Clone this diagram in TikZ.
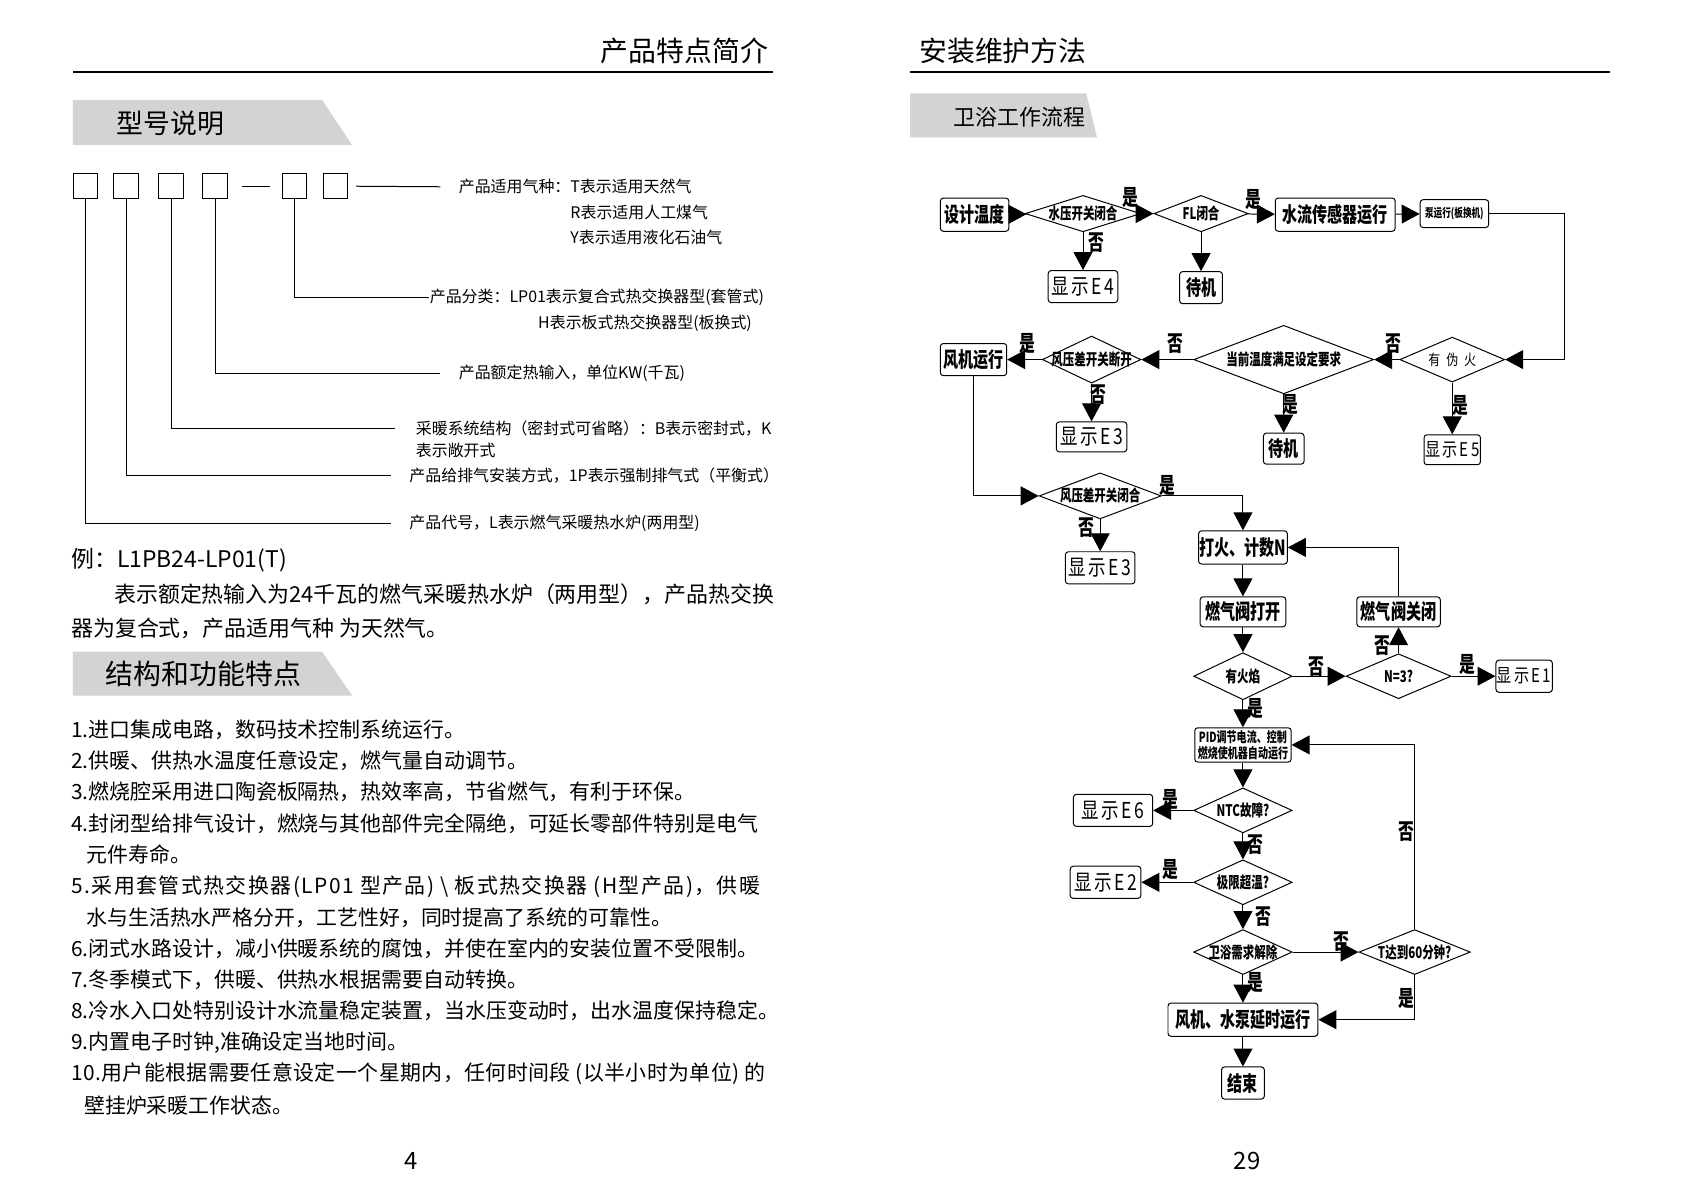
\documentclass[tikz,border=0pt]{standalone}
\usepackage{fontspec}
\setmainfont{Noto Sans CJK SC}
\newfontfamily\flowfont[FakeStretch=0.72]{Noto Sans CJK SC}
\newfontfamily\thinfont[FakeStretch=0.8,LetterSpace=12]{Noto Sans CJK SC}
\usetikzlibrary{shapes.geometric,arrows.meta,positioning}
\definecolor{tabgray}{RGB}{210,211,213}
\newcommand{\dtxt}[1]{\makebox[0pt]{#1}}

\begin{document}
\begin{tikzpicture}[x=0.018941cm, y=-0.018941cm, line width=0.5pt,
    sz/.style 2 args={minimum width=#1*0.5374pt, minimum height=#2*0.5374pt},
    box/.style={draw, rounded corners=1.5pt, inner sep=0.5pt, font=\flowfont\bfseries\fontsize{10.5}{11}\selectfont},
    errbox/.style={draw, rounded corners=1.5pt, inner sep=0.5pt, font=\thinfont\fontsize{11}{11}\selectfont},
    dec/.style={draw, diamond, aspect=1, inner sep=0pt, font=\flowfont\bfseries\fontsize{8}{8}\selectfont},
    yn/.style={inner sep=0pt, font=\flowfont\bfseries\fontsize{11}{11}\selectfont},
    flow/.style={-{Triangle[length=9pt,width=9.5pt]}},
    sq/.style={draw, sz={23}{23}, inner sep=0pt},
    note/.style={anchor=west, inner sep=0pt, font=\fontsize{8}{8}\selectfont},
    item/.style={anchor=west, inner sep=0pt, font=\fontsize{10.5}{10.5}\selectfont},
    title/.style={anchor=west, inner sep=0pt, font=\fontsize{14}{14}\selectfont}]
\useasboundingbox (0,0) rectangle (1568,1109);

% page heads
\node[title, anchor=east] (headL) at (716,47) {产品特点简介};
\draw[line width=0.6pt] (68,67) -- (720,67);
\node[title] (headR) at (856,47) {安装维护方法};
\draw[line width=0.6pt] (848,67) -- (1500,67);

% grey tabs
\fill[tabgray] (68,93) -- (300,93) -- (328,135) -- (68,135) -- cycle;
\node[title, font=\fontsize{13.5}{13.5}\selectfont] (tabModel) at (108,115) {型号说明};
\fill[tabgray] (68,607) -- (300,607) -- (328,648) -- (68,648) -- cycle;
\node[title] (tabFeat) at (98,628) {结构和功能特点};
\fill[tabgray] (848,87) -- (1012,87) -- (1022,128) -- (848,128) -- cycle;
\node[title, font=\fontsize{11}{11}\selectfont] (tabFlow) at (888,109) {卫浴工作流程};

% model code boxes
\node[sq] (b1) at (79.5,173.5) {};
\node[sq] (b2) at (117.5,173.5) {};
\node[sq] (b3) at (159.5,173.5) {};
\node[sq] (b4) at (200.5,173.5) {};
\node[sq] (b5) at (274.5,173.5) {};
\node[sq] (b6) at (312.5,173.5) {};
\draw ([xshift=7pt]b4.east) -- ([xshift=-6pt]b5.west);

\node[note] (gasT) at (427,174) {产品适用气种：T表示适用天然气};
\node[note] (gasR) at (531,198) {R表示适用人工煤气};
\node[note] (gasY) at (531,221) {Y表示适用液化石油气};
\node[note] (typeL) at (400,277) {产品分类：LP01表示复合式热交换器型(套管式)};
\node[note] (typeH) at (501,301) {H表示板式热交换器型(板换式)};
\node[note] (power) at (427,348) {产品额定热输入，单位KW(千瓦)};
\node[note] (sysA) at (387,399) {采暖系统结构（密封式可省略）：B表示密封式，K};
\node[note] (sysB) at (387,420) {表示敞开式};
\node[note] (vent) at (381,443) {产品给排气安装方式，1P表示强制排气式（平衡式）};
\node[note] (code) at (381,488) {产品代号，L表示燃气采暖热水炉(两用型)};

\draw ([xshift=4pt]b6.east) -- ([xshift=-9pt]gasT.west);
\draw (b5.south) |- (typeL.west);
\draw (b4.south) |- ([xshift=-9pt]power.west);
\draw (b3.south) |- ([xshift=-10pt]sysA.west);
\draw (b2.south) |- ([xshift=-9pt]vent.west);
\draw (b1.south) |- ([xshift=-9pt]code.west);

% example and feature list
\node[item, font=\fontsize{11.5}{11.5}\selectfont] (ex) at (66,522) {例：L1PB24-LP01(T)};
\node[item, font=\fontsize{11}{11}\selectfont] (exA) at (106,554) {表示额定热输入为24千瓦的燃气采暖热水炉（两用型），产品热交换};
\node[item, font=\fontsize{11}{11}\selectfont] (exB) at (66,585) {器为复合式，产品适用气种 为天然气。};

\node[item] (f1) at (66,680) {1.进口集成电路，数码技术控制系统运行。};
\node[item] (f2) at (66,709) {2.供暖、供热水温度任意设定，燃气量自动调节。};
\node[item] (f3) at (66,738) {3.燃烧腔采用进口陶瓷板隔热，热效率高，节省燃气，有利于环保。};
\node[item] (f4) at (66,767) {4.封闭型给排气设计，燃烧与其他部件完全隔绝，可延长零部件特别是电气};
\node[item] (f4b) at (80,796) {元件寿命。};
\node[item] (f5) at (66,826) {\addfontfeature{LetterSpace=7}5.采用套管式热交换器(LP01 型产品) \textbackslash\ 板式热交换器 (H型产品)，供暖};
\node[item] (f5b) at (80,855) {水与生活热水严格分开，工艺性好，同时提高了系统的可靠性。};
\node[item] (f6) at (66,884) {6.闭式水路设计，减小供暖系统的腐蚀，并使在室内的安装位置不受限制。};
\node[item] (f7) at (66,913) {7.冬季模式下，供暖、供热水根据需要自动转换。};
\node[item] (f8) at (66,942) {8.冷水入口处特别设计水流量稳定装置，当水压变动时，出水温度保持稳定。};
\node[item] (f9) at (66,971) {9.内置电子时钟,准确设定当地时间。};
\node[item] (f10) at (66,1000) {\addfontfeature{LetterSpace=2}10.用户能根据需要任意设定一个星期内，任何时间段 (以半小时为单位) 的};
\node[item] (f10b) at (78,1030) {壁挂炉采暖工作状态。};

\node[font=\fontsize{12}{12}\selectfont] (pg4) at (383,1082) {4};
\node[font=\fontsize{12}{12}\selectfont] (pg29) at (1162,1082) {29};

% flow chart, first row
\node[box, sz={64}{31}] (settemp) at (908,200) {设计温度};
\node[dec, sz={108}{34}] (wpress) at (1009,199) {\dtxt{水压开关闭合}};
\node[dec, sz={88}{34}] (flclose) at (1119,199) {\dtxt{FL闭合}};
\node[box, sz={112}{31}] (flowsens) at (1244,200) {水流传感器运行};
\node[box, sz={64}{26}, font=\flowfont\bfseries\fontsize{6}{6}\selectfont] (pump) at (1355,199) {泵运行(板换机)};
\node[errbox, sz={65}{30}] (e4) at (1009,267) {显示E4};
\node[box, sz={40}{30}] (standby1) at (1119,268) {待机};
\coordinate (rrail) at (1458,199);

% second row
\node[dec, sz={98}{42}, font=\thinfont\fontsize{7.5}{7.5}\selectfont] (fakefire) at (1353,335) {\dtxt{有\hspace{3pt}伪\hspace{3pt}火}};
\node[dec, sz={168}{64}] (tempok) at (1196,335) {\dtxt{当前温度满足设定要求}};
\node[dec, sz={92}{44}] (fpopen) at (1017,335) {\dtxt{风压差开关断开}};
\node[box, sz={62}{30}] (fan) at (907,335) {风机运行};
\node[errbox, sz={47}{28}, font=\thinfont\fontsize{9.5}{9.5}\selectfont] (e5) at (1353,419) {显示E5};
\node[box, sz={38}{29}] (standby2) at (1196,418) {待机};
\node[errbox, sz={66}{28}] (e3a) at (1017,407) {显示E3};

% ignition loop
\node[dec, sz={114}{43}] (fpclose) at (1025,462) {\dtxt{风压差开关闭合}};
\node[errbox, sz={65}{30}] (e3b) at (1025,529) {显示E3};
\node[box, sz={82}{31}] (ignite) at (1158,510) {打火、计数N};
\node[box, sz={80}{28}] (gason) at (1158,570) {燃气阀打开};
\node[box, sz={78}{28}] (gasoff) at (1303,570) {燃气阀关闭};
\node[dec, sz={92}{44}] (flame) at (1158,630) {\dtxt{有火焰}};
\node[dec, sz={98}{42}] (nthree) at (1303,630) {\dtxt{N=3?}};
\node[errbox, sz={46}{30}, font=\thinfont\fontsize{9.5}{9.5}\selectfont] (e1) at (1420,630) {显示E1};

% running part
\node[box, sz={90}{32}, align=center, font=\flowfont\bfseries\fontsize{7}{8}\selectfont] (pid) at (1158,694) {PID调节电流、控制\\燃烧使机器自动运行};
\node[dec, sz={92}{42}] (ntc) at (1158,755) {\dtxt{NTC故障?}};
\node[errbox, sz={74}{30}] (e6) at (1037,755) {显示E6};
\node[dec, sz={92}{42}] (overheat) at (1158,822) {\dtxt{极限超温?}};
\node[errbox, sz={66}{30}] (e2) at (1030,822) {显示E2};
\node[dec, sz={92}{42}] (bathoff) at (1158,887) {\dtxt{卫浴需求解除}};
\node[dec, sz={104}{42}] (sixty) at (1318,887) {\dtxt{T达到60分钟?}};
\node[box, sz={140}{31}] (delay) at (1158,950) {风机、水泵延时运行};
\node[box, sz={40}{30}] (finish) at (1158,1009) {结束};

% connectors
\draw[flow] (settemp) -- (wpress);
\draw[flow] (wpress) -- (flclose);
\draw[flow] (flclose) -- (flowsens);
\draw[flow] (flowsens) -- (pump);
\draw[flow] (pump.east) -- (rrail) |- (fakefire.east);
\draw[flow] (wpress) -- (e4);
\draw[flow] (flclose) -- (standby1);
\draw[flow] (fakefire) -- (tempok);
\draw[flow] (tempok) -- (fpopen);
\draw[flow] (fpopen) -- (fan);
\draw[flow] (fakefire) -- (e5);
\draw[flow] (tempok) -- (standby2);
\draw[flow] (fpopen) -- (e3a);
\draw[flow] (fan.south) |- (fpclose.west);
\draw[flow] (fpclose.east) -| (ignite.north);
\draw[flow] (fpclose) -- (e3b);
\draw[flow] (ignite) -- (gason);
\draw[flow] (gason) -- (flame);
\draw[flow] (flame) -- (nthree);
\draw[flow] (nthree) -- (e1);
\draw[flow] (nthree) -- (gasoff);
\draw[flow] (gasoff.north) |- (ignite.east);
\draw[flow] (flame) -- (pid);
\draw[flow] (pid) -- (ntc);
\draw[flow] (ntc) -- (e6);
\draw[flow] (ntc) -- (overheat);
\draw[flow] (overheat) -- (e2);
\draw[flow] (overheat) -- (bathoff);
\draw[flow] (bathoff) -- (sixty);
\draw[flow] (sixty.north) |- (pid.east);
\draw[flow] (sixty.south) |- (delay.east);
\draw[flow] (bathoff) -- (delay);
\draw[flow] (delay) -- (finish);

% yes / no marks
\foreach \x/\y [count=\i] in {1053/184, 1168/186, 1361/378, 1202/377, 957/320, 1088/452,
    1367/619, 1170/660, 1090/745, 1090/810, 1310/930, 1170/915}
  \node[yn] (yes\i) at (\x,\y) {是};
\foreach \x/\y [count=\i] in {1021/226, 1298/320, 1095/320, 1023/368, 1012/492, 1226/621,
    1288/602, 1170/787, 1177/854, 1250/877, 1310/775}
  \node[yn] (no\i) at (\x,\y) {否};
\end{tikzpicture}
\end{document}
